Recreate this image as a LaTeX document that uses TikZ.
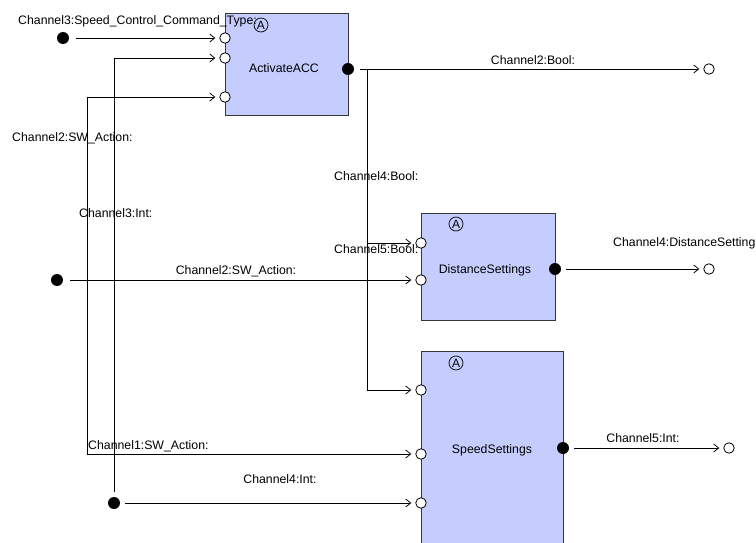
\documentclass[tikz,border=0pt]{standalone}
\usepackage{fontspec}
\setmainfont{Liberation Sans}
\usetikzlibrary{arrows.meta}
\definecolor{boxfill}{RGB}{197,205,255}
\definecolor{boxline}{RGB}{55,55,55}
\begin{document}
\begin{tikzpicture}[x=1pt,y=-1pt,font=\fontsize{12.3}{14}\selectfont,
  block/.style={draw=boxline,fill=boxfill,line width=0.9pt,inner sep=0pt},
  inport/.style={circle,draw,fill=white,minimum size=10.5pt,inner sep=0pt,line width=0.8pt},
  outdot/.style={circle,fill=black,minimum size=12pt,inner sep=0pt},
  flow/.style={-{Straight Barb[length=5pt,width=8pt]},line width=0.8pt,shorten >=4pt,shorten <=6pt},
  lbl/.style={inner sep=0pt,anchor=west},
  clbl/.style={inner sep=0pt,anchor=center},
  badge/.style={circle,draw,line width=0.7pt,inner sep=0pt,minimum size=14pt,font=\fontsize{12}{12}\selectfont}]
\useasboundingbox (0,0) rectangle (756,543);
% blocks
\node[block,minimum width=123pt,minimum height=102pt] (acc) at (286.5,64) {};
\node[block,minimum width=134pt,minimum height=107pt] (dist) at (488,266.5) {};
\node[block,minimum width=142pt,minimum height=209pt] (speed) at (492,455.5) {};
\node[clbl] (acct) at (284,68) {ActivateACC};
\node[clbl] (distt) at (485,270) {DistanceSettings};
\node[clbl] (speedt) at (492,450) {SpeedSettings};
\node[badge] (b1) at (261,25) {A};
\node[badge] (b2) at (456,224) {A};
\node[badge] (b3) at (456,363) {A};
% ports
\node[inport] (a1) at (225,38) {};
\node[inport] (a2) at (225,58) {};
\node[inport] (a3) at (225,97) {};
\node[outdot] (ao) at (348,69) {};
\node[inport] (d1) at (421,243) {};
\node[inport] (d2) at (421,280) {};
\node[outdot] (do) at (555,269) {};
\node[inport] (s1) at (421,390) {};
\node[inport] (s2) at (421,454) {};
\node[inport] (s3) at (421,503) {};
\node[outdot] (so) at (563,448) {};
\node[inport] (k1) at (709,69) {};
\node[inport] (k2) at (709,269) {};
\node[inport] (k3) at (729,448) {};
\node[outdot] (p1) at (63,38) {};
\node[outdot] (p2) at (57,280) {};
\node[outdot] (p3) at (114,503) {};
\coordinate (j1) at (367,69);
\coordinate (j2) at (87,280);
% connectors
\draw[flow,shorten <=7pt] (p1) -- (a1);
\draw[flow,shorten <=7pt] (p2) -- (d2);
\draw[flow,shorten <=0pt] (j2) |- (a3);
\draw[flow,shorten <=0pt] (j2) |- (s2);
\draw[flow,shorten <=5pt] (p3) -- (s3);
\draw[flow,shorten <=5pt] (p3) |- (a2);
\draw[flow] (ao) -- (k1);
\draw[flow,shorten <=0pt] (j1) |- (d1);
\draw[flow,shorten <=0pt] (j1) |- (s1);
\draw[flow,shorten <=5pt] (do) -- (k2);
\draw[flow,shorten <=5pt] (so) -- (k3);
% labels
\node[lbl] (l1) at (18,21) {Channel3:Speed\_Control\_Command\_Type:};
\node[clbl] (l2) at (533,60) {Channel2:Bool:};
\node[lbl] (l3) at (12,138) {Channel2:SW\_Action:};
\node[lbl] (l4) at (334,176) {Channel4:Bool:};
\node[lbl] (l5) at (79,213) {Channel3:Int:};
\node[lbl] (l6) at (334,249) {Channel5:Bool:};
\node[clbl] (l7) at (236,271) {Channel2:SW\_Action:};
\node[lbl] (l8) at (613,243) {Channel4:DistanceSetting};
\node[lbl] (l9) at (88,446) {Channel1:SW\_Action:};
\node[clbl] (l10) at (280,479) {Channel4:Int:};
\node[clbl] (l11) at (643,438) {Channel5:Int:};
\end{tikzpicture}
\end{document}
